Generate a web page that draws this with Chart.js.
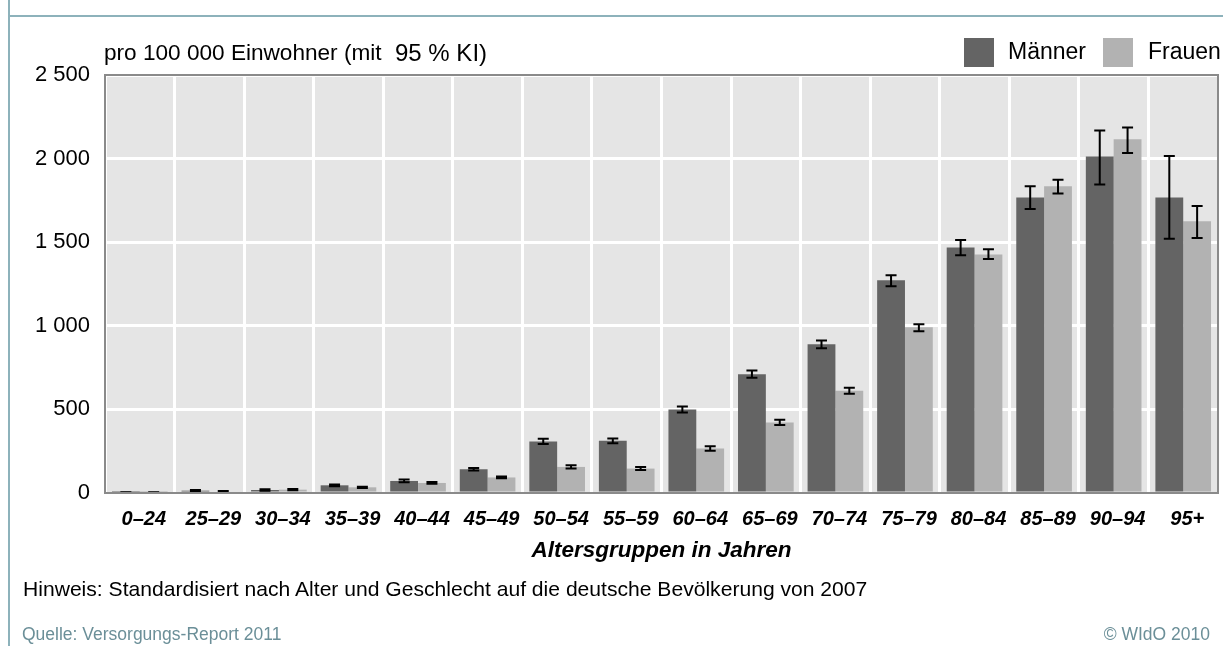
<!DOCTYPE html>
<html lang="de">
<head>
<meta charset="utf-8">
<title>Altersgruppen</title>
<script src="https://cdn.jsdelivr.net/npm/chart.js@4.4.1/dist/chart.umd.min.js"></script>
<style>
  html, body { margin: 0; padding: 0; background: #fff; }
  body { width: 1223px; height: 646px; position: relative; overflow: hidden; font-family: 'Liberation Sans', Arial, sans-serif; }
  #chart { position: absolute; left: 0; top: 0; }
  .txt { position: absolute; line-height: 1; white-space: nowrap; color: #000; }
  .frame-v { position: absolute; left: 8px; top: 0; width: 2px; height: 646px; background: #8db2bb; }
  .frame-h { position: absolute; left: 8px; top: 15px; width: 1215px; height: 2px; background: #8db2bb; }
  .swatch { position: absolute; width: 30px; height: 29px; top: 38px; }
</style>
</head>
<body>
<canvas id="chart" width="1223" height="646"></canvas>
<div class="frame-v"></div>
<div class="frame-h"></div>

<div class="txt" style="left:104px; top:42px; font-size:22.6px;">pro 100 000 Einwohner (mit</div>
<div class="txt" style="left:395px; top:41px; font-size:24px;">95 % KI)</div>

<div class="swatch" style="left:964px; background:#646464;"></div>
<div class="txt" style="left:1008px; top:40px; font-size:23px;">Männer</div>
<div class="swatch" style="left:1103px; background:#b2b2b2;"></div>
<div class="txt" style="left:1148px; top:40px; font-size:23px;">Frauen</div>

<div class="txt" style="left:23px; top:578px; font-size:21.1px;">Hinweis: Standardisiert nach Alter und Geschlecht auf die deutsche Bevölkerung von 2007</div>
<div class="txt" style="left:22px; top:626px; font-size:17.5px; color:#6b8f98;">Quelle: Versorgungs-Report 2011</div>
<div class="txt" style="right:13px; top:626px; font-size:17.5px; color:#6b8f98;">© WIdO 2010</div>

<script>
// Altersgruppen und Werte pro 100 000 Einwohner (mit 95 % KI)
const altersgruppen = ['0–24', '25–29', '30–34', '35–39', '40–44', '45–49', '50–54', '55–59',
  '60–64', '65–69', '70–74', '75–79', '80–84', '85–89', '90–94', '95+'];

const maenner = [3, 14, 18, 46, 72, 142, 308, 312, 500, 710, 890, 1272, 1469, 1768, 2013, 1768];
const maennerLow = [1, 10, 14, 41, 64, 134, 293, 297, 482, 690, 866, 1237, 1422, 1698, 1845, 1520];
const maennerHigh = [5, 18, 23, 51, 80, 150, 325, 326, 518, 732, 912, 1302, 1513, 1834, 2168, 2015];

const frauen = [2, 9, 20, 34, 60, 93, 156, 146, 266, 422, 612, 992, 1427, 1834, 2115, 1625];
const frauenLow = [1, 6, 16, 30, 55, 88, 146, 137, 252, 406, 594, 968, 1400, 1791, 2034, 1525];
const frauenHigh = [4, 12, 24, 38, 66, 98, 166, 155, 280, 438, 630, 1010, 1458, 1873, 2186, 1716];

const yTicks = [0, 500, 1000, 1500, 2000, 2500];

function formatNumber(value) {
  return String(value).replace(/\B(?=(\d{3})+$)/g, ' ');
}

const plotBackground = {
  id: 'plotBackground',
  beforeDraw(chart) {
    const { ctx, chartArea } = chart;
    ctx.save();
    ctx.fillStyle = '#e5e5e5';
    ctx.fillRect(chartArea.left, chartArea.top, chartArea.width, chartArea.height);
    ctx.restore();
  },
};

const errorBars = {
  id: 'errorBars',
  afterDatasetsDraw(chart) {
    const { ctx } = chart;
    const y = chart.scales.y;
    ctx.save();
    ctx.strokeStyle = '#000';
    ctx.lineWidth = 2;
    chart.data.datasets.forEach((dataset, i) => {
      const meta = chart.getDatasetMeta(i);
      meta.data.forEach((bar, j) => {
        const yHigh = y.getPixelForValue(dataset.high[j]);
        const yLow = y.getPixelForValue(dataset.low[j]);
        const half = 5.5;
        ctx.beginPath();
        ctx.moveTo(bar.x, yHigh);
        ctx.lineTo(bar.x, yLow);
        ctx.moveTo(bar.x - half, yHigh);
        ctx.lineTo(bar.x + half, yHigh);
        ctx.moveTo(bar.x - half, yLow);
        ctx.lineTo(bar.x + half, yLow);
        ctx.stroke();
      });
    });
    ctx.restore();
  },
};

const plotFrame = {
  id: 'plotFrame',
  afterDraw(chart) {
    const { ctx, chartArea } = chart;
    ctx.save();
    ctx.strokeStyle = '#8a8a8a';
    ctx.lineWidth = 2;
    ctx.strokeRect(chartArea.left, chartArea.top, chartArea.width, chartArea.height);
    ctx.restore();
  },
};

new Chart(document.getElementById('chart'), {
  type: 'bar',
  data: {
    labels: altersgruppen,
    datasets: [
      { label: 'Männer', data: maenner, low: maennerLow, high: maennerHigh, backgroundColor: '#646464' },
      { label: 'Frauen', data: frauen, low: frauenLow, high: frauenHigh, backgroundColor: '#b2b2b2' },
    ],
  },
  options: {
    responsive: false,
    animation: false,
    events: [],
    layout: { padding: { top: 75, right: 5, bottom: 78, left: 0 } },
    datasets: { bar: { categoryPercentage: 0.8, barPercentage: 1 } },
    plugins: { legend: { display: false }, tooltip: { enabled: false } },
    scales: {
      x: {
        grid: { color: '#ffffff', lineWidth: 3, drawTicks: false, offset: true },
        border: { display: false },
        ticks: {
          color: '#000',
          padding: 14,
          labelOffset: 4,
          maxRotation: 0,
          autoSkip: false,
          font: { family: 'Liberation Sans', size: 20, style: 'italic', weight: 'bold' },
        },
        title: {
          display: true,
          text: 'Altersgruppen in Jahren',
          color: '#000',
          font: { family: 'Liberation Sans', size: 22.5, style: 'italic', weight: 'bold' },
        },
        afterFit: (scale) => { scale.height = 75; },
      },
      y: {
        min: 0,
        max: 2500,
        afterBuildTicks: (scale) => { scale.ticks = yTicks.map((v) => ({ value: v })); },
        grid: { color: '#ffffff', lineWidth: 3, drawTicks: false },
        border: { display: false },
        ticks: {
          color: '#000',
          padding: 15,
          font: { family: 'Liberation Sans', size: 22 },
          callback: (value) => formatNumber(value),
        },
        afterFit: (scale) => { scale.width = 105; },
      },
    },
  },
  plugins: [plotBackground, errorBars, plotFrame],
});
</script>
</body>
</html>
